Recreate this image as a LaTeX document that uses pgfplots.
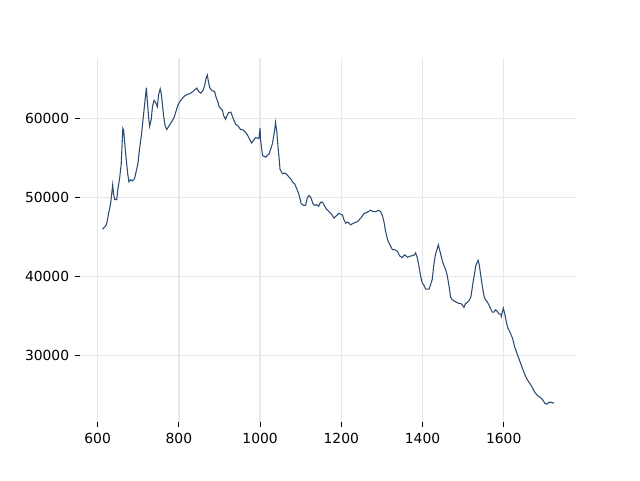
\documentclass[border=0pt]{standalone}
\usepackage{pgfplots}
\pgfplotsset{compat=1.18}
\usepackage{fontspec}
\setmainfont{DejaVu Sans}
\definecolor{linec}{RGB}{45,76,115}
\definecolor{gridc}{RGB}{232,232,232}
\begin{document}
\begin{tikzpicture}[x=1pt,y=1pt]
\path[use as bounding box] (-60,-43.5) rectangle (420,316.5);
\begin{axis}[
  at={(0,0)}, anchor=south west,
  scale only axis, width=372pt, height=273pt,
  xmin=556.5, xmax=1778, ymin=21600, ymax=67650,
  axis line style={draw=none},
  xtick={600,800,...,1600},
  ytick={30000,40000,50000,60000},
  xtick pos=bottom, ytick pos=left,
  tick align=outside,
  major tick length=3.6pt,
  tick style={black, line width=0.6pt},
  grid=major,
  major grid style={gridc, line width=1pt},
  scaled y ticks=false, scaled x ticks=false,
  /pgf/number format/1000 sep={},
  /pgf/number format/assume math mode=true,
  tick label style={font=\fontsize{10.4}{12}\selectfont},
  xticklabel style={yshift=-1pt},
  yticklabel style={xshift=-1pt},
]
\addplot[color=linec, line width=0.8pt, mark=none] coordinates {
(612,46000)(617,46250)(622,46600)(627,48000)(632,49250)(637,51600)(639,50500)(642,49750)(647,49750)(649,50750)
(654,52400)(658,54250)(662,58750)(664,58500)(669,55500)(674,53000)(677,52000)(681,52250)(686,52100)(691,52400)
(694,53100)(699,54250)(703,56100)(708,58000)(713,60500)(720,63900)(722,62400)(726,59900)(728,59000)(732,59900)
(735,61500)(739,62300)(743,62000)(747,61500)(750,63000)(754,63750)(757,63000)(762,60500)(766,59100)(770,58600)
(775,59000)(780,59400)(788,60100)(792,60750)(798,61750)(804,62250)(813,62800)(819,63000)(824,63100)(829,63200)
(834,63400)(839,63600)(844,63850)(849,63400)(854,63200)(857,63400)(860,63600)(864,64250)(867,65100)(870,65500)
(873,64600)(876,63900)(880,63600)(883,63500)(888,63400)(891,62800)(896,62100)(899,61500)(903,61250)(907,61100)
(910,60400)(915,59900)(919,60400)(923,60750)(928,60800)(933,60100)(940,59250)(945,59100)(952,58600)(957,58600)
(965,58200)(969,57900)(974,57400)(979,56900)(982,57100)(989,57600)(994,57500)(997,57450)(1000,58800)(1001,57400)
(1006,55300)(1009,55250)(1014,55100)(1019,55400)(1022,55500)(1026,56100)(1030,56750)(1033,57600)(1036,58600)(1038,59500)
(1041,58400)(1044,56500)(1047,54900)(1049,53600)(1055,53000)(1061,53100)(1066,52900)(1071,52600)(1075,52400)(1080,51950)
(1085,51750)(1092,50900)(1095,50500)(1098,49900)(1101,49250)(1107,49000)(1112,49000)(1116,49900)(1120,50250)(1125,50000)
(1130,49250)(1134,49000)(1139,49100)(1144,48900)(1149,49400)(1154,49400)(1159,48900)(1164,48500)(1170,48200)(1176,47900)
(1182,47400)(1189,47750)(1194,48000)(1198,47900)(1203,47800)(1206,47250)(1211,46750)(1216,46900)(1223,46550)(1230,46750)
(1240,46950)(1248,47400)(1256,48000)(1263,48100)(1272,48400)(1277,48250)(1285,48200)(1292,48400)(1297,48200)(1301,47750)
(1305,46950)(1309,45750)(1314,44650)(1319,44100)(1326,43400)(1332,43400)(1338,43200)(1344,42600)(1350,42400)(1356,42750)
(1363,42450)(1371,42600)(1379,42700)(1383,43000)(1387,42400)(1391,41400)(1396,39900)(1399,39250)(1404,38850)(1408,38400)
(1412,38400)(1416,38400)(1420,39000)(1424,39650)(1428,41550)(1432,42800)(1439,44000)(1442,43400)(1445,42800)(1449,41950)
(1453,41350)(1457,40900)(1461,40100)(1466,38600)(1469,37400)(1473,37100)(1478,36900)(1484,36750)(1489,36600)(1494,36600)
(1498,36400)(1502,36100)(1506,36600)(1511,36750)(1515,37000)(1519,37400)(1522,38400)(1525,39450)(1529,40600)(1531,41350)
(1537,42050)(1540,41400)(1543,40300)(1547,38900)(1552,37400)(1556,37000)(1560,36750)(1564,36350)(1568,35900)(1572,35500)
(1576,35500)(1580,35800)(1584,35600)(1588,35300)(1593,35200)(1594,34950)(1599,36000)(1602,35400)(1605,34650)(1608,33900)
(1611,33400)(1616,32900)(1622,32150)(1627,31100)(1634,30100)(1640,29250)(1646,28400)(1652,27600)(1658,26950)(1664,26500)
(1671,25900)(1676,25400)(1683,24950)(1689,24750)(1696,24400)(1701,24000)(1706,23850)(1711,24100)(1716,24100)(1721,24000)
(1724,24050)
};
\end{axis}
\end{tikzpicture}
\end{document}
